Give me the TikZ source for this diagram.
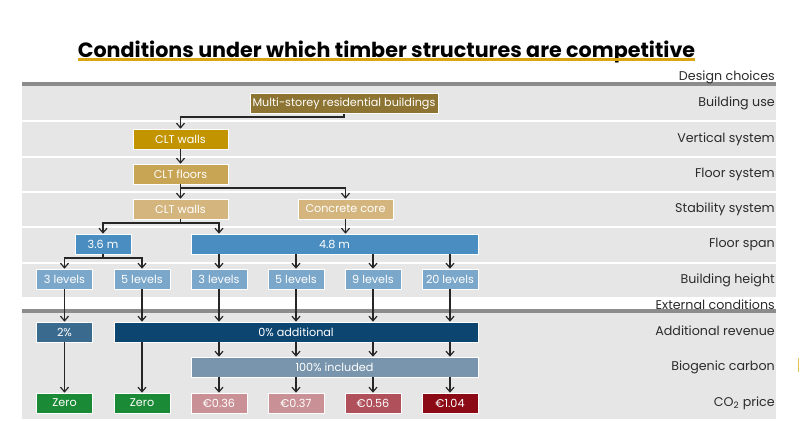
\documentclass[tikz,border=0pt]{standalone}
\usepackage{fontspec}
\setmainfont{Poppins}
\usetikzlibrary{arrows.meta,calc}
\definecolor{panel}{HTML}{E6E6E6}
\definecolor{rule}{HTML}{8C8C8C}
\definecolor{gold}{HTML}{D9A514}
\definecolor{cUse}{HTML}{8E7432}
\definecolor{cVert}{HTML}{C29500}
\definecolor{cFloor}{HTML}{C8A455}
\definecolor{cStab}{HTML}{D4B57E}
\definecolor{cSpan}{HTML}{4A8DC0}
\definecolor{cHeight}{HTML}{7BA7CB}
\definecolor{cRevA}{HTML}{3A6A8E}
\definecolor{cRevB}{HTML}{0C4670}
\definecolor{cBio}{HTML}{7895AD}
\definecolor{cZero}{HTML}{1B8A36}
\definecolor{cPl}{HTML}{C99196}
\definecolor{cPm}{HTML}{B0505A}
\definecolor{cPh}{HTML}{8B0A15}
\definecolor{ink}{HTML}{2B2B2B}
\tikzset{
  box/.style={draw=white, line width=0.4pt, text=white, font=\fontsize{8.4}{9}\selectfont,
    minimum height=15pt, inner sep=0pt, anchor=center},
  wS/.style={minimum width=42pt},
  wM/.style={minimum width=71.25pt},
  wL/.style={minimum width=141pt},
  wXL/.style={minimum width=215.25pt},
  wXXL/.style={minimum width=273pt},
  conn/.style={draw=black!85, line width=0.9pt, -{Straight Barb[length=3.5pt,width=6pt]}},
  lab/.style={anchor=east, text=ink, font=\fontsize{9.5}{11}\selectfont, inner sep=0pt},
  sep/.style={draw=white, line width=1.2pt}
}
\begin{document}
\begin{tikzpicture}[x=0.75pt,y=-0.75pt]
\useasboundingbox (0,0) rectangle (800,421);
% title
\node[font=\bfseries\fontsize{15.5}{18}\selectfont, anchor=base, inner sep=0pt] (title) at (386.5,57) {Conditions under which timber structures are competitive};
\draw[gold, line width=1.6pt] (78,59.5) -- (695,59.5);
% panels
\fill[panel] (22,84) rectangle (776,297);
\fill[panel] (22,311) rectangle (776,419);
\draw[rule, line width=3pt] (22,83.5) -- (776,83.5);
\draw[rule, line width=3pt] (22,311) -- (776,311);
\foreach \yy in {121,157,192,227,263}{\draw[sep] (22,\yy) -- (776,\yy);}
% row labels
\node[lab] (lDesign) at (775,77) {Design choices};
\node[lab] (lUse) at (775,103) {Building use};
\node[lab] (lVert) at (775,139) {Vertical system};
\node[lab] (lFloor) at (775,174) {Floor system};
\node[lab] (lStab) at (775,209) {Stability system};
\node[lab] (lSpan) at (775,244) {Floor span};
\node[lab] (lHeight) at (775,280) {Building height};
\node[lab] (lExt) at (775,305) {External conditions};
\node[lab] (lRev) at (775,331) {Additional revenue};
\node[lab] (lBio) at (775,367) {Biogenic carbon};
\node[lab] (lPrice) at (775,403) {CO\textsubscript{2} price};
% boxes
\node[box,wL,fill=cUse] (mu) at (344,103.5) {Multi-storey residential buildings};
\node[box,wM,fill=cVert] (vw) at (180.5,139) {CLT walls};
\node[box,wM,fill=cFloor] (fl) at (180.5,174) {CLT floors};
\node[box,wM,fill=cStab] (sw) at (180.5,209) {CLT walls};
\node[box,wM,fill=cStab] (cc) at (345.5,209) {Concrete core};
\node[box,wS,fill=cSpan] (s36) at (103,244) {3.6 m};
\node[box,wXL,fill=cSpan] (s48) at (334.5,244) {4.8 m};
\node[box,wS,fill=cHeight] (h1) at (64.5,279) {3 levels};
\node[box,wS,fill=cHeight] (h2) at (142,279) {5 levels};
\node[box,wS,fill=cHeight] (h3) at (219,279) {3 levels};
\node[box,wS,fill=cHeight] (h4) at (296,279) {5 levels};
\node[box,wS,fill=cHeight] (h5) at (373,279) {9 levels};
\node[box,wS,fill=cHeight] (h6) at (450,279) {20 levels};
\node[box,wS,fill=cRevA] (r2) at (64.5,332) {2\%};
\node[box,wXXL,fill=cRevB] (r0) at (296,332) {0\% additional};
\node[box,wXL,fill=cBio] (bio) at (334.5,367) {100\% included};
\node[box,wS,fill=cZero] (p1) at (64.5,403) {Zero};
\node[box,wS,fill=cZero] (p2) at (142,403) {Zero};
\node[box,wS,fill=cPl] (p3) at (219,403) {€0.36};
\node[box,wS,fill=cPl] (p4) at (296,403) {€0.37};
\node[box,wS,fill=cPm] (p5) at (373,403) {€0.56};
\node[box,wS,fill=cPh] (p6) at (450,403) {€1.04};
% connectors
\draw[conn] (mu.south) -- (mu.south |- 0,117) -| (vw.north);
\draw[conn] (vw.south) -- (fl.north);
\draw[conn] (fl.south) -- (sw.north);
\draw[conn] (fl.south) -- (fl.south |- 0,188) -| (cc.north);
\draw[conn] (sw.south) -- (sw.south |- 0,223) -| (s36.north);
\draw[conn] (sw.south) -- (sw.south |- 0,223) -| (h3.north |- s48.north);
\draw[conn] (cc.south) -- (cc.south |- s48.north);
\draw[conn] (s36.south) -- (s36.south |- 0,258) -| (h1.north);
\draw[conn] (s36.south) -- (s36.south |- 0,258) -| (h2.north);
\foreach \h in {h3,h4,h5,h6}{\draw[conn] (\h.north |- s48.south) -- (\h.north);}
\draw[conn] (h1.south) -- (r2.north);
\foreach \h in {h2,h3,h4,h5,h6}{\draw[conn] (\h.south) -- (\h.south |- r0.north);}
\draw[conn] (r2.south) -- (p1.north);
\draw[conn] (p2.north |- r0.south) -- (p2.north);
\foreach \p in {p3,p4,p5,p6}{\draw[conn] (\p.north |- r0.south) -- (\p.north |- bio.north);}
\foreach \p in {p3,p4,p5,p6}{\draw[conn] (\p.north |- bio.south) -- (\p.north);}
% stray mark
\draw[gold!70, line width=1pt] (798.5,358) -- (798.5,372);
\end{tikzpicture}
\end{document}
